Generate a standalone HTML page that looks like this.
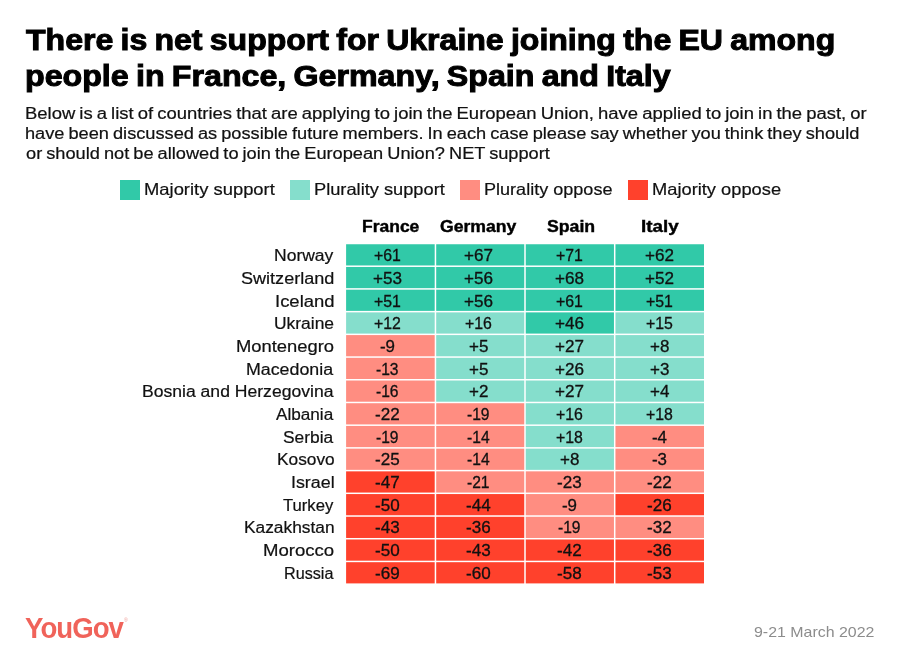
<!DOCTYPE html>
<html><head><meta charset="utf-8"><title>YouGov</title>
<style>
html,body{margin:0;padding:0;background:#fff;}
body{width:900px;height:662px;position:relative;overflow:hidden;font-family:"Liberation Sans",sans-serif;color:#111;}
.x{position:absolute;white-space:nowrap;transform-origin:0 0;}
.sw{position:absolute;top:180px;width:20px;height:20px;}
.c{position:absolute;}
</style></head><body>
<div class="x" style="left:26.49px;top:22px;font-size:29px;line-height:36px;transform:scaleX(1.1047);font-weight:bold;color:#000;word-spacing:-1.5px;-webkit-text-stroke:1.0px #000;">There is net support for Ukraine joining the EU among</div>
<div class="x" style="left:24.73px;top:58px;font-size:29px;line-height:36px;transform:scaleX(1.1094);font-weight:bold;color:#000;word-spacing:-1.5px;-webkit-text-stroke:1.0px #000;">people in France, Germany, Spain and Italy</div>
<div class="x" style="left:25.20px;top:104px;font-size:16px;line-height:20px;transform:scaleX(1.1530);word-spacing:-0.9px;-webkit-text-stroke:0.2px #111;">Below is a list of countries that are applying to join the European Union, have applied to join in the past, or</div>
<div class="x" style="left:25.45px;top:124px;font-size:16px;line-height:20px;transform:scaleX(1.1373);word-spacing:-0.9px;-webkit-text-stroke:0.2px #111;">have been discussed as possible future members. In each case please say whether you think they should</div>
<div class="x" style="left:25.95px;top:144px;font-size:16px;line-height:20px;transform:scaleX(1.1380);word-spacing:-0.9px;-webkit-text-stroke:0.2px #111;">or should not be allowed to join the European Union? NET support</div>
<div class="sw" style="left:120px;background:#31c9a8"></div><div class="x" style="left:144.20px;top:179px;font-size:16.5px;line-height:21px;transform:scaleX(1.1145);-webkit-text-stroke:0.2px #111;">Majority support</div>
<div class="sw" style="left:290px;background:#85decc"></div><div class="x" style="left:314.21px;top:179px;font-size:16.5px;line-height:21px;transform:scaleX(1.1057);-webkit-text-stroke:0.2px #111;">Plurality support</div>
<div class="sw" style="left:460.2px;background:#ff8d81"></div><div class="x" style="left:484.23px;top:179px;font-size:16.5px;line-height:21px;transform:scaleX(1.0942);-webkit-text-stroke:0.2px #111;">Plurality oppose</div>
<div class="sw" style="left:628px;background:#ff412c"></div><div class="x" style="left:651.61px;top:179px;font-size:16.5px;line-height:21px;transform:scaleX(1.1083);-webkit-text-stroke:0.2px #111;">Majority oppose</div>
<div class="x" style="left:362.05px;top:217px;font-size:16px;line-height:20px;transform:scaleX(1.0926);font-weight:bold;color:#000;-webkit-text-stroke:0.4px #000;">France</div>
<div class="x" style="left:439.90px;top:217px;font-size:16px;line-height:20px;transform:scaleX(1.1011);font-weight:bold;color:#000;-webkit-text-stroke:0.4px #000;">Germany</div>
<div class="x" style="left:546.71px;top:217px;font-size:16px;line-height:20px;transform:scaleX(1.1056);font-weight:bold;color:#000;-webkit-text-stroke:0.4px #000;">Spain</div>
<div class="x" style="left:640.58px;top:217px;font-size:16px;line-height:20px;transform:scaleX(1.1740);font-weight:bold;color:#000;-webkit-text-stroke:0.4px #000;">Italy</div>
<svg style="position:absolute;left:0;top:0" width="900" height="662" viewBox="0 0 900 662">
<rect x="346.10" y="244.25" width="88.60" height="21.21" fill="#31c9a8"/><rect x="436.20" y="244.25" width="88.05" height="21.21" fill="#31c9a8"/><rect x="525.75" y="244.25" width="88.20" height="21.21" fill="#31c9a8"/><rect x="615.45" y="244.25" width="88.55" height="21.21" fill="#31c9a8"/>
<rect x="346.10" y="266.96" width="88.60" height="21.21" fill="#31c9a8"/><rect x="436.20" y="266.96" width="88.05" height="21.21" fill="#31c9a8"/><rect x="525.75" y="266.96" width="88.20" height="21.21" fill="#31c9a8"/><rect x="615.45" y="266.96" width="88.55" height="21.21" fill="#31c9a8"/>
<rect x="346.10" y="289.67" width="88.60" height="21.21" fill="#31c9a8"/><rect x="436.20" y="289.67" width="88.05" height="21.21" fill="#31c9a8"/><rect x="525.75" y="289.67" width="88.20" height="21.21" fill="#31c9a8"/><rect x="615.45" y="289.67" width="88.55" height="21.21" fill="#31c9a8"/>
<rect x="346.10" y="312.38" width="88.60" height="21.21" fill="#85decc"/><rect x="436.20" y="312.38" width="88.05" height="21.21" fill="#85decc"/><rect x="525.75" y="312.38" width="88.20" height="21.21" fill="#31c9a8"/><rect x="615.45" y="312.38" width="88.55" height="21.21" fill="#85decc"/>
<rect x="346.10" y="335.09" width="88.60" height="21.21" fill="#ff8d81"/><rect x="436.20" y="335.09" width="88.05" height="21.21" fill="#85decc"/><rect x="525.75" y="335.09" width="88.20" height="21.21" fill="#85decc"/><rect x="615.45" y="335.09" width="88.55" height="21.21" fill="#85decc"/>
<rect x="346.10" y="357.80" width="88.60" height="21.21" fill="#ff8d81"/><rect x="436.20" y="357.80" width="88.05" height="21.21" fill="#85decc"/><rect x="525.75" y="357.80" width="88.20" height="21.21" fill="#85decc"/><rect x="615.45" y="357.80" width="88.55" height="21.21" fill="#85decc"/>
<rect x="346.10" y="380.51" width="88.60" height="21.21" fill="#ff8d81"/><rect x="436.20" y="380.51" width="88.05" height="21.21" fill="#85decc"/><rect x="525.75" y="380.51" width="88.20" height="21.21" fill="#85decc"/><rect x="615.45" y="380.51" width="88.55" height="21.21" fill="#85decc"/>
<rect x="346.10" y="403.22" width="88.60" height="21.21" fill="#ff8d81"/><rect x="436.20" y="403.22" width="88.05" height="21.21" fill="#ff8d81"/><rect x="525.75" y="403.22" width="88.20" height="21.21" fill="#85decc"/><rect x="615.45" y="403.22" width="88.55" height="21.21" fill="#85decc"/>
<rect x="346.10" y="425.93" width="88.60" height="21.21" fill="#ff8d81"/><rect x="436.20" y="425.93" width="88.05" height="21.21" fill="#ff8d81"/><rect x="525.75" y="425.93" width="88.20" height="21.21" fill="#85decc"/><rect x="615.45" y="425.93" width="88.55" height="21.21" fill="#ff8d81"/>
<rect x="346.10" y="448.64" width="88.60" height="21.21" fill="#ff8d81"/><rect x="436.20" y="448.64" width="88.05" height="21.21" fill="#ff8d81"/><rect x="525.75" y="448.64" width="88.20" height="21.21" fill="#85decc"/><rect x="615.45" y="448.64" width="88.55" height="21.21" fill="#ff8d81"/>
<rect x="346.10" y="471.35" width="88.60" height="21.21" fill="#ff412c"/><rect x="436.20" y="471.35" width="88.05" height="21.21" fill="#ff8d81"/><rect x="525.75" y="471.35" width="88.20" height="21.21" fill="#ff8d81"/><rect x="615.45" y="471.35" width="88.55" height="21.21" fill="#ff8d81"/>
<rect x="346.10" y="494.06" width="88.60" height="21.21" fill="#ff412c"/><rect x="436.20" y="494.06" width="88.05" height="21.21" fill="#ff412c"/><rect x="525.75" y="494.06" width="88.20" height="21.21" fill="#ff8d81"/><rect x="615.45" y="494.06" width="88.55" height="21.21" fill="#ff412c"/>
<rect x="346.10" y="516.77" width="88.60" height="21.21" fill="#ff412c"/><rect x="436.20" y="516.77" width="88.05" height="21.21" fill="#ff412c"/><rect x="525.75" y="516.77" width="88.20" height="21.21" fill="#ff8d81"/><rect x="615.45" y="516.77" width="88.55" height="21.21" fill="#ff8d81"/>
<rect x="346.10" y="539.48" width="88.60" height="21.21" fill="#ff412c"/><rect x="436.20" y="539.48" width="88.05" height="21.21" fill="#ff412c"/><rect x="525.75" y="539.48" width="88.20" height="21.21" fill="#ff412c"/><rect x="615.45" y="539.48" width="88.55" height="21.21" fill="#ff412c"/>
<rect x="346.10" y="562.19" width="88.60" height="21.21" fill="#ff412c"/><rect x="436.20" y="562.19" width="88.05" height="21.21" fill="#ff412c"/><rect x="525.75" y="562.19" width="88.20" height="21.21" fill="#ff412c"/><rect x="615.45" y="562.19" width="88.55" height="21.21" fill="#ff412c"/>
</svg>
<div class="x" style="left:274.17px;top:246px;font-size:16px;line-height:20px;transform:scaleX(1.0944);-webkit-text-stroke:0.2px #111;">Norway</div>
<div class="x" style="left:374.16px;top:246px;font-size:16px;line-height:20px;transform:scaleX(0.9902);-webkit-text-stroke:0.3px #111;">+61</div>
<div class="x" style="left:463.93px;top:246px;font-size:16px;line-height:20px;transform:scaleX(1.0675);-webkit-text-stroke:0.3px #111;">+67</div>
<div class="x" style="left:555.96px;top:246px;font-size:16px;line-height:20px;transform:scaleX(0.9902);-webkit-text-stroke:0.3px #111;">+71</div>
<div class="x" style="left:645.03px;top:246px;font-size:16px;line-height:20px;transform:scaleX(1.0675);-webkit-text-stroke:0.3px #111;">+62</div>
<div class="x" style="left:241.29px;top:269px;font-size:16px;line-height:20px;transform:scaleX(1.1288);-webkit-text-stroke:0.2px #111;">Switzerland</div>
<div class="x" style="left:373.07px;top:269px;font-size:16px;line-height:20px;transform:scaleX(1.0675);-webkit-text-stroke:0.3px #111;">+53</div>
<div class="x" style="left:463.87px;top:269px;font-size:16px;line-height:20px;transform:scaleX(1.0675);-webkit-text-stroke:0.3px #111;">+56</div>
<div class="x" style="left:554.87px;top:269px;font-size:16px;line-height:20px;transform:scaleX(1.0675);-webkit-text-stroke:0.3px #111;">+68</div>
<div class="x" style="left:645.03px;top:269px;font-size:16px;line-height:20px;transform:scaleX(1.0675);-webkit-text-stroke:0.3px #111;">+52</div>
<div class="x" style="left:275.11px;top:292px;font-size:16px;line-height:20px;transform:scaleX(1.1545);-webkit-text-stroke:0.2px #111;">Iceland</div>
<div class="x" style="left:374.16px;top:292px;font-size:16px;line-height:20px;transform:scaleX(0.9902);-webkit-text-stroke:0.3px #111;">+51</div>
<div class="x" style="left:463.87px;top:292px;font-size:16px;line-height:20px;transform:scaleX(1.0675);-webkit-text-stroke:0.3px #111;">+56</div>
<div class="x" style="left:555.96px;top:292px;font-size:16px;line-height:20px;transform:scaleX(0.9902);-webkit-text-stroke:0.3px #111;">+61</div>
<div class="x" style="left:646.06px;top:292px;font-size:16px;line-height:20px;transform:scaleX(0.9902);-webkit-text-stroke:0.3px #111;">+51</div>
<div class="x" style="left:274.27px;top:314px;font-size:16px;line-height:20px;transform:scaleX(1.0883);-webkit-text-stroke:0.2px #111;">Ukraine</div>
<div class="x" style="left:374.18px;top:314px;font-size:16px;line-height:20px;transform:scaleX(0.9901);-webkit-text-stroke:0.3px #111;">+12</div>
<div class="x" style="left:464.92px;top:314px;font-size:16px;line-height:20px;transform:scaleX(0.9905);-webkit-text-stroke:0.3px #111;">+16</div>
<div class="x" style="left:554.87px;top:314px;font-size:16px;line-height:20px;transform:scaleX(1.0675);-webkit-text-stroke:0.3px #111;">+46</div>
<div class="x" style="left:646.00px;top:314px;font-size:16px;line-height:20px;transform:scaleX(0.9906);-webkit-text-stroke:0.3px #111;">+15</div>
<div class="x" style="left:236.21px;top:337px;font-size:16px;line-height:20px;transform:scaleX(1.1482);-webkit-text-stroke:0.2px #111;">Montenegro</div>
<div class="x" style="left:380.12px;top:337px;font-size:16px;line-height:20px;transform:scaleX(1.0552);-webkit-text-stroke:0.3px #111;">-9</div>
<div class="x" style="left:468.66px;top:337px;font-size:16px;line-height:20px;transform:scaleX(1.0610);-webkit-text-stroke:0.3px #111;">+5</div>
<div class="x" style="left:554.93px;top:337px;font-size:16px;line-height:20px;transform:scaleX(1.0675);-webkit-text-stroke:0.3px #111;">+27</div>
<div class="x" style="left:649.78px;top:337px;font-size:16px;line-height:20px;transform:scaleX(1.0610);-webkit-text-stroke:0.3px #111;">+8</div>
<div class="x" style="left:246.45px;top:360px;font-size:16px;line-height:20px;transform:scaleX(1.1120);-webkit-text-stroke:0.2px #111;">Macedonia</div>
<div class="x" style="left:376.33px;top:360px;font-size:16px;line-height:20px;transform:scaleX(0.9744);-webkit-text-stroke:0.3px #111;">-13</div>
<div class="x" style="left:468.66px;top:360px;font-size:16px;line-height:20px;transform:scaleX(1.0610);-webkit-text-stroke:0.3px #111;">+5</div>
<div class="x" style="left:554.87px;top:360px;font-size:16px;line-height:20px;transform:scaleX(1.0675);-webkit-text-stroke:0.3px #111;">+26</div>
<div class="x" style="left:649.78px;top:360px;font-size:16px;line-height:20px;transform:scaleX(1.0610);-webkit-text-stroke:0.3px #111;">+3</div>
<div class="x" style="left:142.07px;top:382px;font-size:16px;line-height:20px;transform:scaleX(1.0980);-webkit-text-stroke:0.2px #111;">Bosnia and Herzegovina</div>
<div class="x" style="left:376.33px;top:382px;font-size:16px;line-height:20px;transform:scaleX(0.9744);-webkit-text-stroke:0.3px #111;">-16</div>
<div class="x" style="left:468.74px;top:382px;font-size:16px;line-height:20px;transform:scaleX(1.0609);-webkit-text-stroke:0.3px #111;">+2</div>
<div class="x" style="left:554.93px;top:382px;font-size:16px;line-height:20px;transform:scaleX(1.0675);-webkit-text-stroke:0.3px #111;">+27</div>
<div class="x" style="left:649.65px;top:382px;font-size:16px;line-height:20px;transform:scaleX(1.0613);-webkit-text-stroke:0.3px #111;">+4</div>
<div class="x" style="left:276.27px;top:405px;font-size:16px;line-height:20px;transform:scaleX(1.0720);-webkit-text-stroke:0.2px #111;">Albania</div>
<div class="x" style="left:375.33px;top:405px;font-size:16px;line-height:20px;transform:scaleX(1.0652);-webkit-text-stroke:0.3px #111;">-22</div>
<div class="x" style="left:467.16px;top:405px;font-size:16px;line-height:20px;transform:scaleX(0.9742);-webkit-text-stroke:0.3px #111;">-19</div>
<div class="x" style="left:555.92px;top:405px;font-size:16px;line-height:20px;transform:scaleX(0.9905);-webkit-text-stroke:0.3px #111;">+16</div>
<div class="x" style="left:646.02px;top:405px;font-size:16px;line-height:20px;transform:scaleX(0.9905);-webkit-text-stroke:0.3px #111;">+18</div>
<div class="x" style="left:283.32px;top:428px;font-size:16px;line-height:20px;transform:scaleX(1.0848);-webkit-text-stroke:0.2px #111;">Serbia</div>
<div class="x" style="left:376.36px;top:428px;font-size:16px;line-height:20px;transform:scaleX(0.9742);-webkit-text-stroke:0.3px #111;">-19</div>
<div class="x" style="left:467.00px;top:428px;font-size:16px;line-height:20px;transform:scaleX(0.9755);-webkit-text-stroke:0.3px #111;">-14</div>
<div class="x" style="left:555.92px;top:428px;font-size:16px;line-height:20px;transform:scaleX(0.9905);-webkit-text-stroke:0.3px #111;">+18</div>
<div class="x" style="left:651.86px;top:428px;font-size:16px;line-height:20px;transform:scaleX(1.0557);-webkit-text-stroke:0.3px #111;">-4</div>
<div class="x" style="left:276.59px;top:450px;font-size:16px;line-height:20px;transform:scaleX(1.0798);-webkit-text-stroke:0.2px #111;">Kosovo</div>
<div class="x" style="left:375.26px;top:450px;font-size:16px;line-height:20px;transform:scaleX(1.0653);-webkit-text-stroke:0.3px #111;">-25</div>
<div class="x" style="left:467.00px;top:450px;font-size:16px;line-height:20px;transform:scaleX(0.9755);-webkit-text-stroke:0.3px #111;">-14</div>
<div class="x" style="left:559.68px;top:450px;font-size:16px;line-height:20px;transform:scaleX(1.0610);-webkit-text-stroke:0.3px #111;">+8</div>
<div class="x" style="left:651.99px;top:450px;font-size:16px;line-height:20px;transform:scaleX(1.0553);-webkit-text-stroke:0.3px #111;">-3</div>
<div class="x" style="left:291.07px;top:473px;font-size:16px;line-height:20px;transform:scaleX(1.1148);-webkit-text-stroke:0.2px #111;">Israel</div>
<div class="x" style="left:375.33px;top:473px;font-size:16px;line-height:20px;transform:scaleX(1.0652);-webkit-text-stroke:0.3px #111;">-47</div>
<div class="x" style="left:467.17px;top:473px;font-size:16px;line-height:20px;transform:scaleX(0.9740);-webkit-text-stroke:0.3px #111;">-21</div>
<div class="x" style="left:557.08px;top:473px;font-size:16px;line-height:20px;transform:scaleX(1.0653);-webkit-text-stroke:0.3px #111;">-23</div>
<div class="x" style="left:647.23px;top:473px;font-size:16px;line-height:20px;transform:scaleX(1.0652);-webkit-text-stroke:0.3px #111;">-22</div>
<div class="x" style="left:283.23px;top:496px;font-size:16px;line-height:20px;transform:scaleX(1.0413);-webkit-text-stroke:0.2px #111;">Turkey</div>
<div class="x" style="left:375.24px;top:496px;font-size:16px;line-height:20px;transform:scaleX(1.0653);-webkit-text-stroke:0.3px #111;">-50</div>
<div class="x" style="left:465.95px;top:496px;font-size:16px;line-height:20px;transform:scaleX(1.0654);-webkit-text-stroke:0.3px #111;">-44</div>
<div class="x" style="left:561.92px;top:496px;font-size:16px;line-height:20px;transform:scaleX(1.0552);-webkit-text-stroke:0.3px #111;">-9</div>
<div class="x" style="left:647.18px;top:496px;font-size:16px;line-height:20px;transform:scaleX(1.0653);-webkit-text-stroke:0.3px #111;">-26</div>
<div class="x" style="left:244.09px;top:518px;font-size:16px;line-height:20px;transform:scaleX(1.0828);-webkit-text-stroke:0.2px #111;">Kazakhstan</div>
<div class="x" style="left:375.28px;top:518px;font-size:16px;line-height:20px;transform:scaleX(1.0653);-webkit-text-stroke:0.3px #111;">-43</div>
<div class="x" style="left:466.08px;top:518px;font-size:16px;line-height:20px;transform:scaleX(1.0653);-webkit-text-stroke:0.3px #111;">-36</div>
<div class="x" style="left:558.16px;top:518px;font-size:16px;line-height:20px;transform:scaleX(0.9742);-webkit-text-stroke:0.3px #111;">-19</div>
<div class="x" style="left:647.23px;top:518px;font-size:16px;line-height:20px;transform:scaleX(1.0652);-webkit-text-stroke:0.3px #111;">-32</div>
<div class="x" style="left:263.09px;top:541px;font-size:16px;line-height:20px;transform:scaleX(1.1600);-webkit-text-stroke:0.2px #111;">Morocco</div>
<div class="x" style="left:375.24px;top:541px;font-size:16px;line-height:20px;transform:scaleX(1.0653);-webkit-text-stroke:0.3px #111;">-50</div>
<div class="x" style="left:466.08px;top:541px;font-size:16px;line-height:20px;transform:scaleX(1.0653);-webkit-text-stroke:0.3px #111;">-43</div>
<div class="x" style="left:557.13px;top:541px;font-size:16px;line-height:20px;transform:scaleX(1.0652);-webkit-text-stroke:0.3px #111;">-42</div>
<div class="x" style="left:647.18px;top:541px;font-size:16px;line-height:20px;transform:scaleX(1.0653);-webkit-text-stroke:0.3px #111;">-36</div>
<div class="x" style="left:284.07px;top:564px;font-size:16px;line-height:20px;transform:scaleX(1.0106);-webkit-text-stroke:0.2px #111;">Russia</div>
<div class="x" style="left:375.31px;top:564px;font-size:16px;line-height:20px;transform:scaleX(1.0652);-webkit-text-stroke:0.3px #111;">-69</div>
<div class="x" style="left:466.04px;top:564px;font-size:16px;line-height:20px;transform:scaleX(1.0653);-webkit-text-stroke:0.3px #111;">-60</div>
<div class="x" style="left:557.07px;top:564px;font-size:16px;line-height:20px;transform:scaleX(1.0653);-webkit-text-stroke:0.3px #111;">-58</div>
<div class="x" style="left:647.18px;top:564px;font-size:16px;line-height:20px;transform:scaleX(1.0653);-webkit-text-stroke:0.3px #111;">-53</div>
<div class="x" style="left:24.93px;top:610px;font-size:28.6px;line-height:36px;transform:scaleX(0.9649);font-weight:bold;color:#f0635a;letter-spacing:-1px;">YouGov</div>
<div class="x" style="left:123.72px;top:617px;font-size:5px;line-height:6px;transform:scaleX(1.0198);color:#f0a09a;">®</div>
<div class="x" style="left:754.25px;top:622px;font-size:15px;line-height:19px;transform:scaleX(1.0613);color:#8c8c8c;">9-21 March 2022</div>
</body></html>
